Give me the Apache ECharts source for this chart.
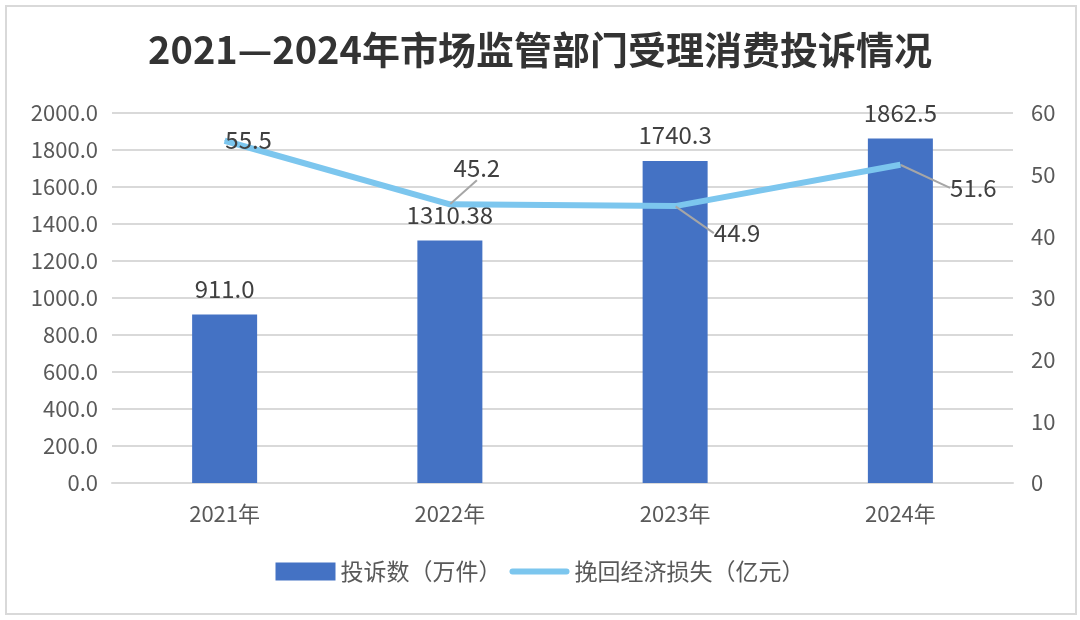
<!DOCTYPE html>
<html>
<head>
<meta charset="utf-8">
<script src="https://cdn.jsdelivr.net/npm/echarts@6/dist/echarts.min.js"></script>
<style>
  html, body { margin: 0; padding: 0; background: #fff; }
  #wrap { position: absolute; left: 5px; top: 5px; width: 1068px; height: 606px; border: 2px solid #d9d9d9; }
  #chart { position: absolute; left: 0; top: 0; width: 1080px; height: 620px; }
</style>
</head>
<body>
<div id="wrap"></div>
<div id="chart"></div>
<script>
// 数据
var years = ['2021年', '2022年', '2023年', '2024年'];
var complaints = [911.0, 1310.38, 1740.3, 1862.5];       // 投诉数（万件）
var complaintLabels = ['911.0', '1310.38', '1740.3', '1862.5'];
var recovered = [55.5, 45.2, 44.9, 51.6];                 // 挽回经济损失（亿元）

var font = '"Noto Sans CJK SC", "Microsoft YaHei", sans-serif';
var chart = echarts.init(document.getElementById('chart'));

// 折线标签偏移（带引导线）
var lineLabelShift = [
    {dx: 24, dy: -1, line: false},
    {dx: 27, dy: -36, line: true},
    {dx: 62, dy: 27, line: true},
    {dx: 73, dy: 23, line: true}
];

var option = {
    animation: false,
    textStyle: {fontFamily: font},
    title: {
        text: '2021—2024年市场监管部门受理消费投诉情况',
        left: 'center', top: 26,
        textStyle: {fontSize: 38, fontWeight: 'bold', color: '#333333', fontFamily: font}
    },
    legend: {
        bottom: 32, left: 'center', itemGap: 8,
        itemWidth: 60, itemHeight: 18,
        textStyle: {fontSize: 23, color: '#595959', fontFamily: font},
        data: [
            {name: '投诉数（万件）', icon: 'rect'},
            {name: '挽回经济损失（亿元）', icon: 'path://M3,0 L57,0 A3,3 0 0 1 57,6 L3,6 A3,3 0 0 1 3,0 Z'}
        ]
    },
    grid: {left: 112, right: 67, top: 113, bottom: 137},
    xAxis: {
        type: 'category', data: years,
        axisLine: {lineStyle: {color: '#d9d9d9', width: 2}},
        axisTick: {show: false},
        axisLabel: {fontSize: 22, color: '#595959', margin: 20, fontFamily: font}
    },
    yAxis: [{
        type: 'value', min: 0, max: 2000, interval: 200,
        axisLabel: {fontSize: 22, color: '#595959', margin: 14, fontFamily: font,
            formatter: function (v) { return v.toFixed(1); }},
        splitLine: {lineStyle: {color: '#d9d9d9', width: 2}},
        axisLine: {show: false}, axisTick: {show: false}
    }, {
        type: 'value', min: 0, max: 60, interval: 10,
        axisLabel: {fontSize: 22, color: '#595959', margin: 18, fontFamily: font},
        splitLine: {show: false},
        axisLine: {show: false}, axisTick: {show: false}
    }],
    series: [{
        name: '投诉数（万件）', type: 'bar', barWidth: 65,
        data: complaints,
        itemStyle: {color: '#4472c4'},
        label: {show: true, position: 'top', distance: 14, fontSize: 24, color: '#404040',
            fontFamily: font,
            formatter: function (p) { return complaintLabels[p.dataIndex]; }}
    }, {
        name: '挽回经济损失（亿元）', type: 'line', yAxisIndex: 1,
        data: recovered.map(function (v, i) {
            return lineLabelShift[i].line ? v : {value: v, labelLine: {show: false}};
        }),
        symbol: 'circle', symbolSize: 1, showSymbol: true, smooth: false,
        lineStyle: {color: '#7cc6ee', width: 6},
        itemStyle: {color: '#7cc6ee'},
        label: {show: true, position: 'inside', fontSize: 24, color: '#404040', fontFamily: font,
            formatter: function (p) { return recovered[p.dataIndex].toFixed(1); }},
        labelLine: {show: true, lineStyle: {color: '#a6a6a6', width: 2}},
        labelLayout: function (p) {
            var s = lineLabelShift[p.dataIndex];
            return {dx: s.dx, dy: s.dy, moveOverlap: false};
        },
        z: 5
    }]
};
chart.setOption(option);

window.addEventListener('resize', function () { chart.resize(); });
</script>
</body>
</html>
